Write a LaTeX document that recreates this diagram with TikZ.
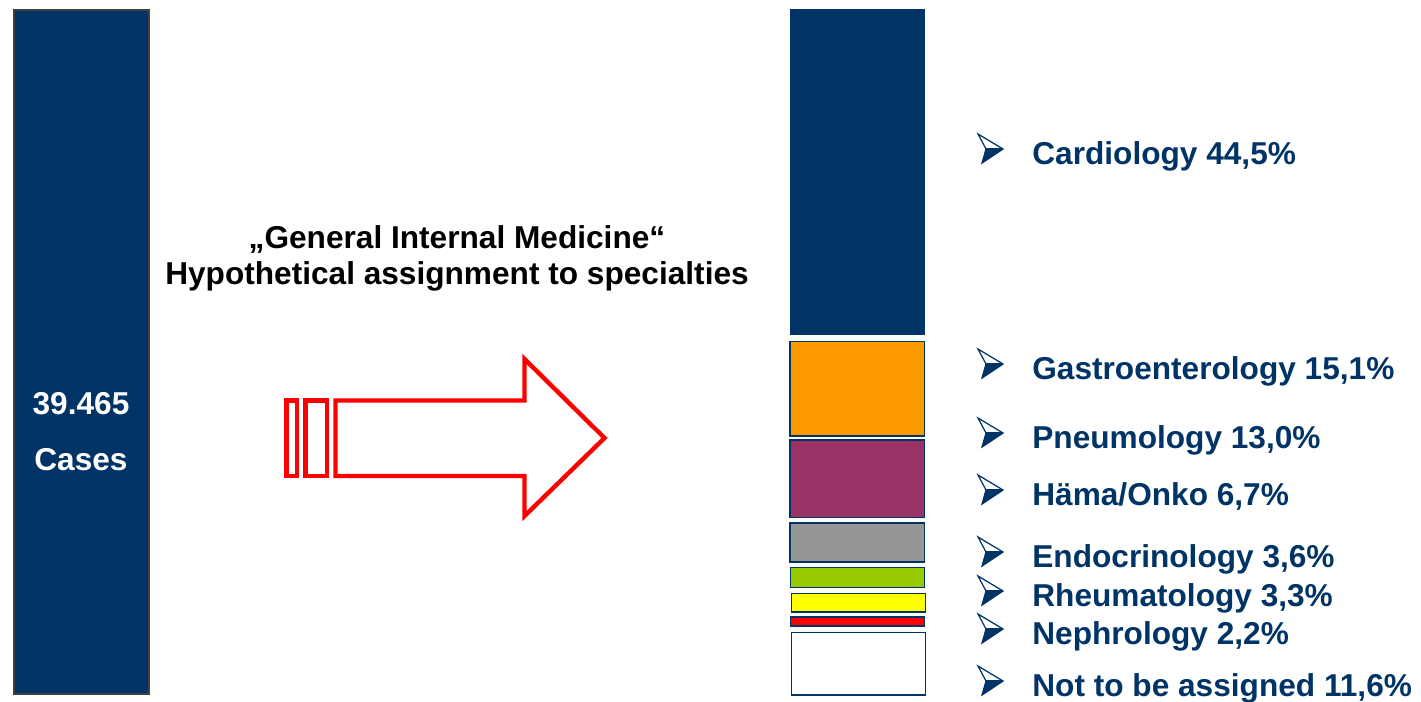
\documentclass[tikz,border=0pt]{standalone}
\usepackage{fontspec}
\setmainfont{Liberation Sans}
\usepackage{xcolor}

\definecolor{navy}{HTML}{003366}
\definecolor{gastro}{HTML}{FF9900}
\definecolor{pneumo}{HTML}{993366}
\definecolor{haema}{HTML}{969696}
\definecolor{endo}{HTML}{99CC00}
\definecolor{rheuma}{HTML}{FFFF00}
\definecolor{nephro}{HTML}{FF0000}

\begin{document}
\begin{tikzpicture}[x=0.02cm,y=-0.02cm,
    segbox/.style={draw=navy,line width=0.9pt},
    bigtext/.style={font=\bfseries\fontsize{18}{20}\selectfont,inner sep=0pt},
    spec/.style={bigtext,anchor=base west,text=navy},
    arrowmark/.pic={
      \fill[navy] (-4,0) -- (13,0) -- (-8,14) -- cycle;
      \draw[navy,line width=0.7pt,line join=miter] (-12,-15) -- (13,0) -- (-8,14) -- (-4,0) -- cycle;
      \draw[navy,line width=0.7pt] (-4,0) -- (13,0);},
    hollow/.style={draw=red,line width=2.5pt}]
\useasboundingbox (0,0) rectangle (1421,701);

% all cases
\draw[fill=navy,draw=black!75,line width=0.6pt] (14,10) rectangle (149,694);
\node[bigtext,text=white] (Number) at (81,404) {39.465};
\node[bigtext,text=white] (Cases) at (81,460) {Cases};

% heading
\node[bigtext,anchor=base] (Heading) at (457,248) {„General Internal Medicine“};
\node[bigtext,anchor=base] (Subheading) at (457,284) {Hypothetical assignment to specialties};

% arrow
\draw[hollow] (286.5,400.5) rectangle (297,476);
\draw[hollow] (305.5,400.5) rectangle (327,476);
\draw[hollow,line join=miter] (335.5,400.5) -- (524.5,400.5) -- (524.5,359) -- (604.5,438)
    -- (524.5,516) -- (524.5,476) -- (335.5,476) -- cycle;

% split of the cases
\fill[navy] (790,9) rectangle (925,335);
\draw[segbox,fill=gastro] (790,341.5) rectangle (924.5,436);
\draw[segbox,fill=pneumo] (790,440) rectangle (924.5,517.5);
\draw[segbox,fill=haema] (790,523) rectangle (924.5,562);
\draw[segbox,fill=endo] (790.5,567.5) rectangle (924.5,587.5);
\draw[segbox,fill=rheuma] (791.5,593.5) rectangle (925.5,612);
\draw[segbox,fill=nephro] (790.5,617) rectangle (924.5,626);
\draw[segbox,fill=white] (791.5,632.5) rectangle (925.5,695);

% legend
\foreach \y/\name/\txt in {164/Cardio/{Cardiology 44,5\%},
    379/Gastro/{Gastroenterology 15,1\%},
    448/Pneumo/{Pneumology 13,0\%},
    505/Haema/{Häma/Onko 6,7\%},
    567/Endo/{Endocrinology 3,6\%},
    606/Rheuma/{Rheumatology 3,3\%},
    644/Nephro/{Nephrology 2,2\%},
    696/None/{Not to be assigned 11,6\%}}{
  \pic (B\name) at (990,\y-15) {arrowmark};
  \node[spec] (L\name) at (1032,\y) {\txt};
}
\end{tikzpicture}
\end{document}
